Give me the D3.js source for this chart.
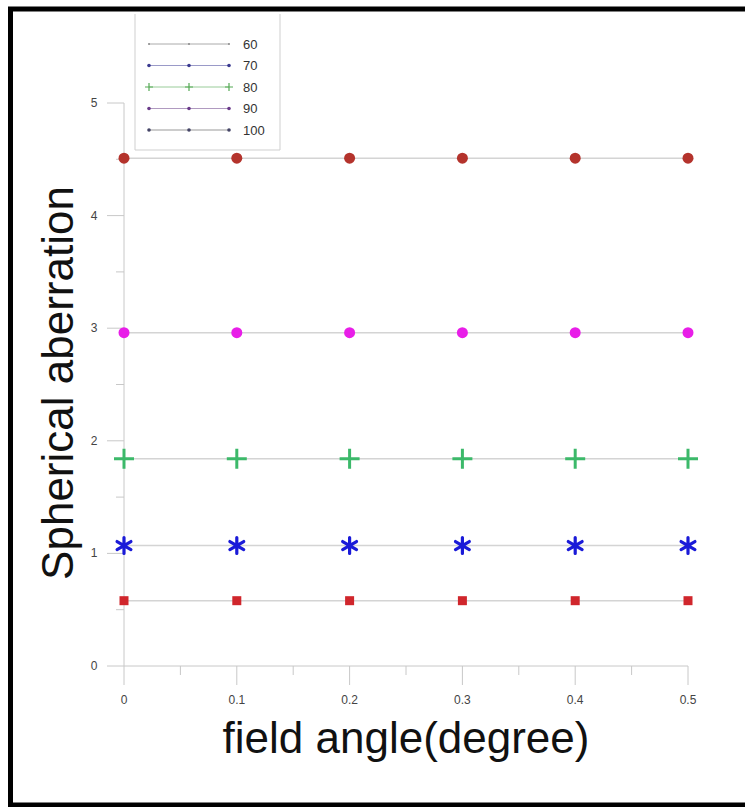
<!DOCTYPE html>
<html>
<head>
<meta charset="utf-8">
<script src="https://cdn.jsdelivr.net/npm/d3@7"></script>
<style>
  body { margin: 0; background: #fff; }
  text { font-family: "Liberation Sans", Arial, sans-serif; }
</style>
</head>
<body>
<div id="chart"></div>
<script>
// data
var angles = [0, 0.1, 0.2, 0.3, 0.4, 0.5];
var seriesNames = ["60", "70", "80", "90", "100"];
var seriesValues = [0.58, 1.07, 1.84, 2.96, 4.51];
var seriesColors = ["#d0262c", "#1a1ad8", "#3cb96a", "#e81ee8", "#b4332c"];
var seriesShapes = ["square", "star", "plus", "circle", "circle"];
var legendColors = ["#888888", "#3a3a90", "#55aa55", "#6a3a8a", "#444466"];
var legendLineColors = ["#aaaaaa", "#9a9ac8", "#99cc99", "#b09ac0", "#999999"];
var xTicks = [0, 0.1, 0.2, 0.3, 0.4, 0.5];
var yTicks = [0, 1, 2, 3, 4, 5];

var W = 745, H = 807;
var svg = d3.select("#chart").append("svg")
    .attr("width", W).attr("height", H);

// black frame
svg.append("rect")
    .attr("x", 10.5).attr("y", 9)
    .attr("width", W + 20).attr("height", 796)
    .attr("fill", "none")
    .attr("stroke", "#000")
    .attr("stroke-width", 5);

var x = d3.scaleLinear().domain([0, 0.5]).range([124, 688]);
var y = d3.scaleLinear().domain([0, 5]).range([666, 103]);

var axisColor = "#c8c8c8";

// y axis
svg.append("line")
    .attr("x1", x(0)).attr("x2", x(0))
    .attr("y1", y(5)).attr("y2", y(0))
    .attr("stroke", axisColor);
svg.selectAll(".ymaj").data(yTicks).enter().append("line")
    .attr("x1", x(0) - 17).attr("x2", x(0))
    .attr("y1", function(d) { return y(d); })
    .attr("y2", function(d) { return y(d); })
    .attr("stroke", axisColor);
svg.selectAll(".ymin").data(d3.range(0.5, 5, 1)).enter().append("line")
    .attr("x1", x(0) - 8).attr("x2", x(0))
    .attr("y1", function(d) { return y(d); })
    .attr("y2", function(d) { return y(d); })
    .attr("stroke", axisColor);
svg.selectAll(".ylab").data(yTicks).enter().append("text")
    .attr("x", x(0) - 30)
    .attr("y", function(d) { return y(d) + 4; })
    .attr("text-anchor", "middle")
    .attr("font-size", 12)
    .attr("fill", "#444")
    .text(function(d) { return d; });

// x axis
svg.append("line")
    .attr("x1", x(0)).attr("x2", x(0.5))
    .attr("y1", y(0)).attr("y2", y(0))
    .attr("stroke", axisColor);
svg.selectAll(".xmaj").data(xTicks).enter().append("line")
    .attr("x1", function(d) { return x(d); })
    .attr("x2", function(d) { return x(d); })
    .attr("y1", y(0)).attr("y2", y(0) + 19)
    .attr("stroke", axisColor);
svg.selectAll(".xmin").data(d3.range(0.05, 0.5, 0.1)).enter().append("line")
    .attr("x1", function(d) { return x(d); })
    .attr("x2", function(d) { return x(d); })
    .attr("y1", y(0)).attr("y2", y(0) + 9)
    .attr("stroke", axisColor);
svg.selectAll(".xlab").data(xTicks).enter().append("text")
    .attr("x", function(d) { return x(d); })
    .attr("y", y(0) + 38)
    .attr("text-anchor", "middle")
    .attr("font-size", 12)
    .attr("fill", "#444")
    .text(function(d) { return d; });

// axis titles
svg.append("text")
    .attr("x", 406).attr("y", 753)
    .attr("text-anchor", "middle")
    .attr("font-size", 44)
    .attr("fill", "#111")
    .text("field angle(degree)");
svg.append("text")
    .attr("transform", "translate(73," + 383 + ") rotate(-90)")
    .attr("text-anchor", "middle")
    .attr("font-size", 44)
    .attr("fill", "#111")
    .text("Spherical aberration");

// series
var series = seriesNames.map(function(n, i) {
  return { name: n, value: seriesValues[i], color: seriesColors[i], shape: seriesShapes[i] };
});

var line = d3.line()
    .x(function(d) { return x(d[0]); })
    .y(function(d) { return y(d[1]); });

series.forEach(function(s) {
  var pts = angles.map(function(a) { return [a, s.value]; });
  svg.append("path")
      .attr("d", line(pts))
      .attr("fill", "none")
      .attr("stroke", "#d4d4d4")
      .attr("stroke-width", 1.5);

  var g = svg.append("g");
  pts.forEach(function(p) {
    var cx = x(p[0]), cy = y(p[1]);
    if (s.shape == "square") {
      g.append("rect").attr("x", cx - 4.5).attr("y", cy - 4.5)
          .attr("width", 9).attr("height", 9).attr("fill", s.color);
    } else if (s.shape == "circle") {
      g.append("circle").attr("cx", cx).attr("cy", cy).attr("r", 5.5).attr("fill", s.color);
    } else if (s.shape == "plus") {
      g.append("path")
          .attr("d", "M" + (cx - 10) + "," + cy + "H" + (cx + 10) + "M" + cx + "," + (cy - 10) + "V" + (cy + 10))
          .attr("stroke", s.color).attr("stroke-width", 3);
    } else if (s.shape == "star") {
      // six-armed asterisk
      var r = 8, d = "";
      [90, 30, -30].forEach(function(a) {
        var dx = r * Math.cos(a * Math.PI / 180), dy = r * Math.sin(a * Math.PI / 180);
        d += "M" + (cx - dx) + "," + (cy - dy) + "L" + (cx + dx) + "," + (cy + dy);
      });
      g.append("path").attr("d", d)
          .attr("stroke", s.color).attr("stroke-width", 3.2)
          .attr("stroke-linecap", "round");
    }
  });
});

// legend
var lg = svg.append("g");
lg.append("path")
    .attr("d", "M135,14V150H280V14")
    .attr("fill", "none")
    .attr("stroke", "#cfcfcf");

var legend = lg.selectAll(".legend")
    .data(seriesNames)
    .enter().append("g")
    .attr("class", "legend")
    .attr("transform", function(d, i) { return "translate(0," + (44 + 21.5 * i) + ")"; });

legend.append("line")
    .attr("x1", 149).attr("x2", 229)
    .attr("stroke", function(d, i) { return legendLineColors[i]; });

legend.each(function(d, i) {
  var gg = d3.select(this);
  [149, 189, 229].forEach(function(px) {
    if (i == 2) {
      gg.append("path")
          .attr("d", "M" + (px - 4) + ",0H" + (px + 4) + "M" + px + ",-4V4")
          .attr("stroke", legendColors[i]).attr("stroke-width", 1.2);
    } else {
      gg.append("circle").attr("cx", px).attr("cy", 0)
          .attr("r", i == 0 ? 1 : 1.8)
          .attr("fill", legendColors[i]);
    }
  });
});

legend.append("text")
    .attr("x", 243).attr("y", 4.5)
    .attr("font-size", 13)
    .attr("fill", "#333")
    .text(function(d) { return d; });
</script>
</body>
</html>
